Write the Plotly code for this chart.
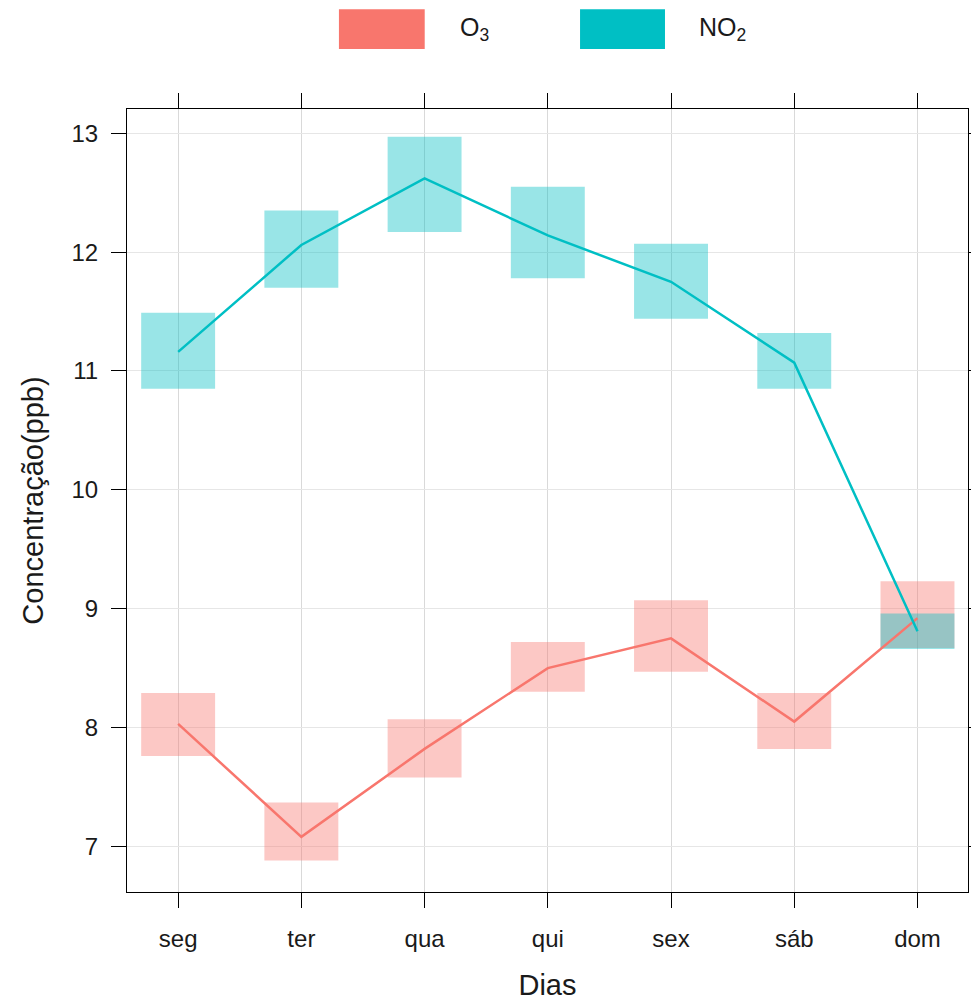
import plotly.graph_objects as go

dias = ["seg", "ter", "qua", "qui", "sex", "sáb", "dom"]

o3_mean = [8.03, 7.08, 7.82, 8.50, 8.75, 8.05, 8.92]
o3_lower = [7.76, 6.88, 7.58, 8.30, 8.47, 7.82, 8.67]
o3_upper = [8.29, 7.37, 8.07, 8.72, 9.07, 8.29, 9.23]

no2_mean = [11.16, 12.06, 12.62, 12.14, 11.75, 11.07, 8.81]
no2_lower = [10.85, 11.70, 12.17, 11.78, 11.44, 10.85, 8.66]
no2_upper = [11.49, 12.35, 12.97, 12.55, 12.07, 11.32, 8.96]

y_ticks = [7, 8, 9, 10, 11, 12, 13]

C_O3 = "#F8766D"
C_NO2 = "#00BFC4"
FONT = "Liberation Sans, Arial, sans-serif"

xs = list(range(len(dias)))

fig = go.Figure()

def add_series(mean, lower, upper, color, rgba):
    fig.add_trace(go.Bar(
        x=xs, y=[u - l for u, l in zip(upper, lower)], base=lower,
        width=0.6, marker=dict(color=rgba, line=dict(width=0)),
        showlegend=False, hoverinfo="skip"))
    fig.add_trace(go.Scatter(
        x=xs, y=mean, mode="lines", line=dict(color=color, width=2.5),
        showlegend=False))

add_series(o3_mean, o3_lower, o3_upper, C_O3, "rgba(248,118,109,0.4)")
add_series(no2_mean, no2_lower, no2_upper, C_NO2, "rgba(0,191,196,0.4)")

axis_common = dict(
    showline=True, linecolor="black", linewidth=1, mirror="ticks",
    ticks="outside", ticklen=15, tickcolor="black", tickwidth=1,
    tickfont=dict(family=FONT, size=24, color="#1a1a1a"),
    zeroline=False, automargin=False,
)

fig.update_layout(
    width=971, height=1001,
    margin=dict(l=127, r=3, t=109, b=109),
    plot_bgcolor="white", paper_bgcolor="white",
    barmode="overlay",
    font=dict(family=FONT, color="#1a1a1a"),
    xaxis=dict(
        range=[-0.415, 6.41], tickmode="array", tickvals=xs, ticktext=dias,
        showgrid=True, gridcolor="#d9d9d9", gridwidth=1,
        title=dict(text="Dias", font=dict(family=FONT, size=29, color="#1a1a1a"), standoff=24),
        ticklabelstandoff=10,
        **axis_common),
    yaxis=dict(
        range=[6.616, 13.204], tickmode="array", tickvals=y_ticks,
        ticktext=[str(v) for v in y_ticks],
        showgrid=True, gridcolor="#e6e6e6", gridwidth=1,
        title=dict(text="Concentração(ppb)", font=dict(family=FONT, size=29, color="#1a1a1a"), standoff=19),
        ticklabelstandoff=8,
        **axis_common),
)

# legend drawn at the top, as in the reference
legend_items = [("O<sub>3</sub>", C_O3, 0.252, 0.354, 0.394),
                ("NO<sub>2</sub>", C_NO2, 0.5387, 0.6397, 0.678)]
for label, color, x0, x1, xt in legend_items:
    fig.add_shape(type="rect", xref="paper", yref="paper",
                  x0=x0, x1=x1, y0=1.0766, y1=1.1273,
                  fillcolor=color, line=dict(width=0))
    fig.add_annotation(xref="paper", yref="paper", x=xt, y=1.102,
                       xanchor="left", yanchor="middle", showarrow=False,
                       text=label, font=dict(family=FONT, size=25, color="#1a1a1a"))

fig.write_html("out.html", config={"displayModeBar": False},
               post_script="document.body.style.margin='0';document.body.style.overflow='hidden';")
